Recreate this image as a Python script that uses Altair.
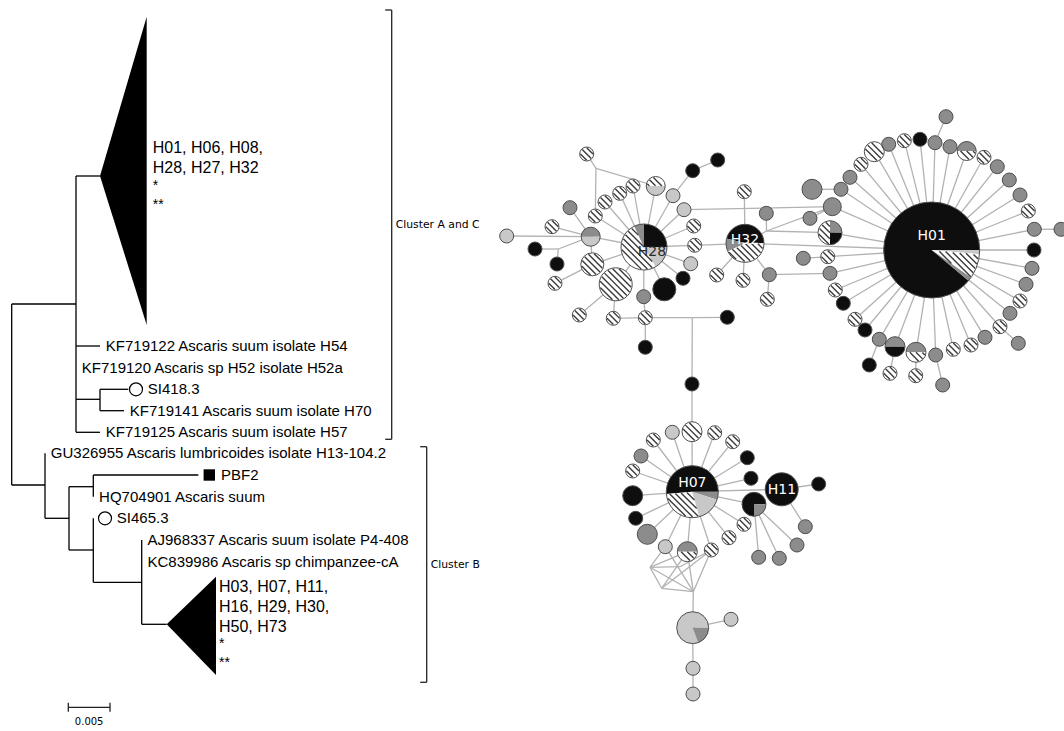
import math
import altair as alt
import pandas as pd

W, H = 1064, 731

# ---------------- phylogenetic tree (layout units) ----------------
tree_nodes = ["root", "A", "triA", "H54", "H52a", "a1", "SI418", "H70", "H57",
              "B", "GU", "b1", "b2", "PBF2", "HQ", "b3", "SI465", "b4", "AJ", "KC", "triB"]
tree_parent = [None, "root", "A", "A", "A", "A", "a1", "a1", "A",
               "root", "B", "B", "b1", "b2", "b2", "b1", "b3", "b3", "b4", "b4", "b4"]
tree_x = [11.7, 76, 100, 100, 76, 100, 128.3, 124, 100,
          45, 45, 69, 93.3, 198.3, 93.3, 93.3, 93.3, 141.7, 141.7, 141.7, 166.7]
tree_y = [394.5, 304, 176, 346, 367.7, 399.3, 389.3, 410.7, 432.3,
          485, 453.3, 518.3, 486.7, 475, 496.7, 550, 518.3, 582.3, 540, 561.7, 624.3]

# taxon labels on tips
label_leaf = ["H54", "H52a", "SI418", "H70", "H57", "GU", "PBF2", "HQ", "SI465", "AJ", "KC"]
label_text = ["KF719122 Ascaris suum isolate H54",
              "KF719120 Ascaris sp H52 isolate H52a",
              "SI418.3",
              "KF719141 Ascaris suum isolate H70",
              "KF719125 Ascaris suum isolate H57",
              "GU326955 Ascaris lumbricoides isolate H13-104.2",
              "PBF2",
              "HQ704901 Ascaris suum",
              "SI465.3",
              "AJ968337 Ascaris suum isolate P4-408",
              "KC839986 Ascaris sp chimpanzee-cA"]
label_marker = ["", "", "open", "", "", "", "square", "", "open", "", ""]
marker_gap = {"SI418": 7.7, "PBF2": 11.0, "SI465": 11.7}

# collapsed clades
clade_apex = ["triA", "triB"]
clade_base_x = [146.7, 216.0]
clade_top = [16.7, 576.7]
clade_bottom = [325.0, 675.0]
clade_members = [["H01, H06, H08,", "H28, H27, H32"],
                 ["H03, H07, H11,", "H16, H29, H30,", "H50, H73"]]
clade_label_gap = [6, 3]
clade_marks = ["*", "**"]

# cluster brackets
cluster_names = ["Cluster A and C", "Cluster B"]
bracket_x = [391.7, 426.7]
bracket_top = [10.0, 446.7]
bracket_bottom = [439.3, 682.3]

# scale bar
scale_value = 0.005
scale_label = "0.005"
px_per_unit = 8340.0
scale_origin = (68.3, 707.3)

# ---------------- haplotype network ----------------
# (name, x, y, radius, kind)  kind: k black, m mid grey, l light grey, h hatched, pie, j junction
nodes_h28 = [
    ("H28", 644, 247, 23, "pie"), ("a1", 586.7, 154, 7, "h"), ("a2", 717.7, 160, 7, "k"),
    ("a3", 692.7, 170.7, 7, "k"), ("a4", 633, 186, 7, "h"), ("a5", 655.7, 186, 9.5, "pie"),
    ("a6", 619.7, 193.3, 7, "h"), ("a7", 673, 195.7, 7, "l"), ("a8", 605, 202, 7, "h"),
    ("a9", 570, 207.7, 7, "m"), ("a10", 684, 209.7, 7, "l"), ("a11", 595.3, 216, 7, "h"),
    ("a12", 552, 226.7, 7, "h"), ("a13", 693.7, 226, 7, "h"), ("a14", 590.7, 236.7, 9.5, "pie"),
    ("a15", 694.7, 245.3, 7, "h"), ("a16", 535, 249, 7, "k"), ("a17", 592.3, 264.3, 11.5, "h"),
    ("a18", 557, 264, 7, "k"), ("a19", 690.7, 263.7, 7, "l"), ("a20", 683, 278.3, 7, "k"),
    ("a21", 555, 283.3, 7, "h"), ("a22", 615.7, 284.3, 16.5, "h"), ("a23", 664.3, 289.3, 11.5, "k"),
    ("a24", 643.7, 296.7, 7, "m"), ("a25", 579.3, 315, 7, "h"), ("a26", 613.3, 318.3, 7, "h"),
    ("a27", 645.3, 317.7, 7, "h"), ("a28", 727.3, 317.3, 7, "k"), ("a29", 645.3, 347.3, 7, "k"),
    ("a30", 506.7, 236, 7, "l"),
    ("j1", 558.3, 249, 0, "j"), ("j2", 596, 168.3, 0, "j"), ("j3", 692.3, 317.7, 0, "j"),
]
nodes_h32 = [
    ("H32", 745, 243.3, 19, "pie"), ("b31", 744.3, 191.7, 7, "h"), ("b32", 766.3, 213.3, 7, "m"),
    ("b33", 716.7, 275, 7, "h"), ("b34", 743, 280.3, 7, "h"), ("b35", 769.3, 274.7, 7, "m"),
    ("b36", 767.3, 299.3, 7, "h"), ("j5", 766.5, 231, 0, "j"),
]
nodes_h01 = [
    ("H01", 931.7, 250, 48, "pie"), ("c41", 946, 116.7, 7, "m"), ("c42", 920, 139.3, 7, "k"),
    ("c43", 904.3, 140.7, 7, "h"), ("c44", 935, 142.7, 7, "m"), ("c45", 888.7, 144.3, 7, "m"),
    ("c46", 950, 146.7, 7, "m"), ("c47", 966.7, 151, 9.5, "pie"), ("c48", 874.3, 151.7, 10, "h"),
    ("c49", 984, 157.3, 7, "h"), ("c50", 861, 164.3, 7, "h"), ("c51", 997.3, 166.7, 7, "m"),
    ("c52", 850, 177.3, 7, "m"), ("c53", 1009.3, 180, 7, "m"), ("c54", 812, 189.3, 10, "m"),
    ("c55", 841, 189.3, 7, "m"), ("c56", 1020, 195, 7, "m"), ("c57", 832.3, 206.7, 9, "m"),
    ("c58", 1028.3, 211, 7, "h"), ("c59", 810, 218.3, 7, "m"), ("c60", 830, 232.7, 12, "pie"),
    ("c61", 1034.3, 229.3, 7, "m"), ("c62", 1061, 229.3, 7, "m"), ("c63", 1034, 250, 7, "k"),
    ("c64", 803.3, 258.3, 7, "m"), ("c65", 827.7, 256.7, 7, "h"), ("c66", 1032, 268.3, 7, "m"),
    ("c67", 830, 273.3, 7, "m"), ("c68", 1026, 284.3, 7, "m"), ("c69", 835.3, 290, 7, "h"),
    ("c70", 1020, 301, 7, "h"), ("c71", 843.3, 303.3, 7, "k"), ("c72", 1010, 313.3, 7, "m"),
    ("c73", 855, 319.3, 7, "h"), ("c74", 1000, 326.7, 7, "h"), ("c75", 865, 330, 7, "k"),
    ("c76", 985, 337.3, 7, "m"), ("c77", 1018.3, 343.3, 7, "m"), ("c78", 971, 345, 7, "h"),
    ("c79", 879.3, 339.3, 7, "m"), ("c80", 895, 346.7, 10, "pie"), ("c81", 953.3, 349.3, 7, "h"),
    ("c82", 916, 352.3, 10, "pie"), ("c83", 935.7, 355, 7, "m"), ("c84", 869.3, 365, 7, "k"),
    ("c85", 890, 373.3, 7, "h"), ("c86", 915.7, 375.7, 7, "h"), ("c87", 942.7, 385, 7, "m"),
]
nodes_h07 = [
    ("d0", 692, 384, 7, "k"), ("d1", 692, 431.7, 10, "h"), ("d2", 672.3, 432.3, 7, "l"),
    ("d3", 714.7, 432.7, 7, "h"), ("d4", 653.3, 440, 7, "h"), ("d5", 732.7, 441.7, 7, "h"),
    ("d6", 641, 456, 7, "m"), ("d7", 747.3, 457.7, 7, "k"), ("d8", 632.7, 471, 7, "h"),
    ("d9", 751, 478.3, 7, "k"), ("H07", 692.3, 491.7, 26, "pie"), ("H11", 781.7, 489.3, 16.5, "k"),
    ("d12", 818.7, 484, 7, "k"), ("d13", 632.7, 495.7, 10, "k"), ("d14", 635.7, 518.3, 7, "k"),
    ("d15", 754, 504.3, 12, "pie"), ("d16", 744, 524.3, 7, "h"), ("d17", 647.3, 534.3, 10, "m"),
    ("d18", 805.3, 526.7, 7, "m"), ("d19", 729, 537.7, 7, "h"), ("d20", 665.3, 546.7, 7, "l"),
    ("d21", 687.3, 551.7, 10, "pie"), ("d22", 711.3, 550, 7, "h"), ("d23", 797, 545, 7, "m"),
    ("d24", 758.7, 557.3, 7, "m"), ("d25", 779.3, 558.3, 7, "m"), ("d26", 692.7, 627.7, 16, "pie"),
    ("d27", 731, 619.3, 7, "l"), ("d28", 693, 668.3, 7, "l"), ("d29", 693, 694, 7, "l"),
    ("t1", 650, 567.3, 0, "j"), ("t4", 661.7, 588.3, 0, "j"), ("t5", 693.3, 591.7, 0, "j"),
    ("t7", 680, 566.7, 0, "j"),
]

edges_h28 = [
    ("H28", n) for n in ["a4", "a5", "a6", "a7", "a8", "a10", "a11", "a13", "a15", "a19",
                         "a20", "a23", "a24", "a14", "a17", "a22"]
] + [
    ("a1", "j2"), ("j2", "a5"), ("j2", "a11"), ("a7", "a3"), ("a3", "a2"),
    ("a14", "a9"), ("a14", "a12"), ("a14", "a30"), ("a14", "j1"), ("j1", "a16"), ("j1", "a18"),
    ("a14", "a17"), ("a21", "a17"), ("a22", "a25"), ("a22", "a26"),
    ("a24", "a27"), ("a27", "a29"), ("a26", "a27"), ("a27", "j3"), ("j3", "a28"), ("j3", "d0"),
    ("a15", "H32"), ("a10", "c57"),
]
edges_h32 = [
    ("H32", "b31"), ("H32", "b33"), ("H32", "b34"), ("H32", "b35"), ("b35", "b36"),
    ("H32", "j5"), ("j5", "b32"), ("j5", "c57"), ("j5", "c60"), ("H32", "H01"), ("b35", "c67"),
]
edges_h01 = [
    ("H01", n) for n in ["c42", "c43", "c44", "c45", "c46", "c47", "c48", "c49", "c50", "c51",
                         "c52", "c53", "c55", "c56", "c57", "c58", "c60", "c61", "c63", "c65",
                         "c66", "c67", "c68", "c69", "c70", "c71", "c72", "c73", "c74", "c75",
                         "c76", "c78", "c79", "c80", "c81", "c82", "c83"]
] + [
    ("c41", "c44"), ("c62", "c61"), ("c64", "c65"), ("c77", "c74"), ("c84", "c79"),
    ("c85", "c80"), ("c86", "c82"), ("c87", "c83"), ("c54", "c55"), ("c59", "c57"),
]
edges_h07 = [
    ("d0", "d1"), ("d1", "H07"),
] + [
    ("H07", n) for n in ["d2", "d3", "d4", "d5", "d6", "d7", "d8", "d9", "H11", "d13", "d14",
                         "d15", "d16", "d17", "d19", "d20", "d21", "d22"]
] + [
    ("H11", "d12"), ("H11", "d18"), ("d15", "d23"), ("d15", "d24"), ("d15", "d25"),
    ("t1", "d20"), ("t1", "d21"), ("t1", "t4"), ("t4", "t5"), ("t1", "t5"), ("d20", "t5"),
    ("d21", "t4"), ("d22", "t4"), ("d22", "t5"), ("t7", "d22"), ("t7", "t1"), ("d21", "t5"),
    ("t5", "d26"), ("d26", "d27"), ("d26", "d28"), ("d28", "d29"),
]

# pie compositions: (node, start deg, end deg, kind), clockwise from 12 o'clock
pie_slices = [
    ("H28", 0, 90, "k"), ("H28", 90, 150, "l"), ("H28", 150, 335, "h"), ("H28", 335, 360, "m"),
    ("a5", 270, 450, "h"), ("a5", 90, 270, "l"),
    ("a14", 270, 450, "m"), ("a14", 90, 270, "l"),
    ("H32", 285, 450, "k"), ("H32", 90, 245, "h"), ("H32", 245, 285, "m"),
    ("H01", 130, 450, "k"), ("H01", 90, 95, "l"), ("H01", 95, 125, "h"), ("H01", 125, 130, "m"),
    ("c47", 270, 450, "m"), ("c47", 90, 270, "h"),
    ("c60", 0, 90, "m"), ("c60", 90, 180, "k"), ("c60", 180, 360, "h"),
    ("c80", 270, 450, "m"), ("c80", 90, 270, "k"),
    ("c82", 270, 450, "m"), ("c82", 90, 270, "h"),
    ("H07", 265, 450, "k"), ("H07", 90, 108, "m"), ("H07", 108, 165, "l"), ("H07", 165, 265, "h"),
    ("d15", 180, 450, "k"), ("d15", 90, 180, "m"),
    ("d21", 270, 450, "m"), ("d21", 90, 270, "h"),
    ("d26", 160, 450, "l"), ("d26", 90, 160, "m"),
]

hap_labels = [("H01", 931.7, 236, "white"), ("H28", 652, 252, "#2a2a2a"),
              ("H32", 745, 240, "white"), ("H07", 692.3, 483, "white"), ("H11", 782, 489.5, "white")]

fill_colors = {"k": "#0e0e0e", "m": "#8c8c8c", "l": "#c8c8c8", "h": "#ffffff"}

# ---------------- build tables ----------------
tx = dict(zip(tree_nodes, tree_x))
ty = dict(zip(tree_nodes, tree_y))

tree_rows = []
children = {}
for n, p in zip(tree_nodes, tree_parent):
    if p is None:
        continue
    children.setdefault(p, []).append(n)
    if tx[n] > tx[p]:
        tree_rows.append({"x": tx[p], "y": ty[n], "x2": tx[n], "y2": ty[n]})
for p, kids in children.items():
    ys = [ty[k] for k in kids]
    tree_rows.append({"x": tx[p], "y": min(ys), "x2": tx[p], "y2": max(ys)})

bracket_rows = []
for bx, b0, b1 in zip(bracket_x, bracket_top, bracket_bottom):
    bracket_rows += [{"x": bx, "y": b0, "x2": bx, "y2": b1},
                     {"x": bx - 6.5, "y": b0, "x2": bx, "y2": b0},
                     {"x": bx - 6.5, "y": b1, "x2": bx, "y2": b1}]
sx0, sy0 = scale_origin
sx1 = sx0 + scale_value * px_per_unit
bracket_rows += [{"x": sx0, "y": sy0, "x2": sx1, "y2": sy0},
                 {"x": sx0, "y": sy0 - 4.5, "x2": sx0, "y2": sy0 + 4.5},
                 {"x": sx1, "y": sy0 - 4.5, "x2": sx1, "y2": sy0 + 4.5}]

tri_rows = []
for i, apex in enumerate(clade_apex):
    tri_rows.append({"tri": apex, "x": tx[apex], "y": ty[apex], "y2": ty[apex]})
    tri_rows.append({"tri": apex, "x": clade_base_x[i], "y": clade_top[i], "y2": clade_bottom[i]})

taxa_rows, open_rows, square_rows = [], [], []
for leaf, text, mk in zip(label_leaf, label_text, label_marker):
    if mk:
        mx = tx[leaf] + marker_gap[leaf]
        (open_rows if mk == "open" else square_rows).append({"x": mx, "y": ty[leaf]})
        taxa_rows.append({"x": mx + 11.8, "y": ty[leaf], "t": text})
    else:
        taxa_rows.append({"x": tx[leaf] + 5.8, "y": ty[leaf], "t": text})

clade_rows, star_rows = [], []
for i, apex in enumerate(clade_apex):
    names = clade_members[i]
    block = 20 * (len(names) - 1) + 16.3 + 19
    y0 = ty[apex] - block / 2
    lx = clade_base_x[i] + clade_label_gap[i]
    for k, nm in enumerate(names):
        clade_rows.append({"x": lx, "y": y0 + 20 * k, "t": nm})
    ylast = y0 + 20 * (len(names) - 1)
    star_rows.append({"x": lx, "y": ylast + 17.5, "t": clade_marks[0]})
    star_rows.append({"x": lx, "y": ylast + 36.5, "t": clade_marks[1]})

cluster_rows = [{"x": bx + 4, "y": (b0 + b1) / 2, "t": nm}
                for nm, bx, b0, b1 in zip(cluster_names, bracket_x, bracket_top, bracket_bottom)]
scale_rows = [{"x": (sx0 + sx1) / 2, "y": sy0 + 15, "t": scale_label}]

all_nodes = nodes_h28 + nodes_h32 + nodes_h01 + nodes_h07
pos = {n[0]: n for n in all_nodes}

edge_rows = []
for a, b in edges_h28 + edges_h32 + edges_h01 + edges_h07:
    edge_rows.append({"x": pos[a][1], "y": pos[a][2], "x2": pos[b][1], "y2": pos[b][2]})


def hatch(cx, cy, r, a0=0.0, a1=360.0, step=4.4):
    """Diagonal hatch strokes clipped to a circle sector."""
    out = []
    s2 = math.sqrt(0.5)
    rin = r - 0.7
    full = (a1 - a0) >= 360
    n = int(rin // step) + 1
    for i in range(-n, n + 1):
        off = i * step
        if abs(off) >= rin - 0.6:
            continue
        h = math.sqrt(rin * rin - off * off)
        bx, by = cx + off * s2, cy - off * s2
        run = None
        steps = 60
        for k in range(steps + 1):
            t = -h + 2 * h * k / steps
            px, py = bx + t * s2, by + t * s2
            if full:
                ok = True
            else:
                ang = math.degrees(math.atan2(px - cx, -(py - cy))) % 360
                ok = ((ang - a0) % 360) <= (a1 - a0)
            if ok:
                if run is None:
                    run = [px, py, px, py]
                else:
                    run[2], run[3] = px, py
            elif run is not None:
                out.append(run)
                run = None
        if run is not None:
            out.append(run)
    return [s for s in out if math.hypot(s[2] - s[0], s[3] - s[1]) > 1.0]


arc_rows, hatch_rows, outline_rows = [], [], []
for name, x, y, r, kind in all_nodes:
    if kind == "j":
        continue
    outline_rows.append({"x": x, "y": y, "s": (2 * r) ** 2})
    if kind == "pie":
        continue
    arc_rows.append({"x": x, "y": y, "t0": 0.0, "t1": 2 * math.pi, "r": r, "col": fill_colors[kind]})
    if kind == "h":
        for s in hatch(x, y, r):
            hatch_rows.append({"x": s[0], "y": s[1], "x2": s[2], "y2": s[3]})
for name, a0, a1, kind in pie_slices:
    _, x, y, r, _ = pos[name]
    arc_rows.append({"x": x, "y": y, "t0": math.radians(a0), "t1": math.radians(a1),
                     "r": r, "col": fill_colors[kind]})
    if kind == "h":
        for s in hatch(x, y, r, a0, a1):
            hatch_rows.append({"x": s[0], "y": s[1], "x2": s[2], "y2": s[3]})

hap_rows = [{"x": x, "y": y, "t": t, "c": c} for t, x, y, c in hap_labels]

# ---------------- chart ----------------
xs = alt.Scale(domain=[0, W], nice=False, zero=False)
ys = alt.Scale(domain=[0, H], nice=False, zero=False, reverse=True)


def X(f="x"):
    return alt.X(f, type="quantitative", scale=xs, axis=None)


def Y(f="y"):
    return alt.Y(f, type="quantitative", scale=ys, axis=None)


def segs(rows, color, width):
    return alt.Chart(pd.DataFrame(rows)).mark_rule(color=color, strokeWidth=width).encode(
        x=X(), y=Y(), x2="x2:Q", y2="y2:Q")


def texts(rows, size, font, color="black", align="left"):
    return alt.Chart(pd.DataFrame(rows)).mark_text(
        align=align, baseline="middle", fontSize=size, font=font, color=color
    ).encode(x=X(), y=Y(), text="t:N")


tree_layer = segs(tree_rows, "black", 1.3)
bracket_layer = segs(bracket_rows, "#222222", 1.3)
tri_layer = alt.Chart(pd.DataFrame(tri_rows)).mark_area(
    color="black", orient="vertical", opacity=1
).encode(x=X(), y=Y(), y2="y2:Q", detail="tri:N")
open_layer = alt.Chart(pd.DataFrame(open_rows)).mark_point(
    shape="circle", filled=False, color="black", strokeWidth=1.2, size=169, opacity=1
).encode(x=X(), y=Y())
square_layer = alt.Chart(pd.DataFrame(square_rows)).mark_point(
    shape="square", filled=True, color="black", size=130, opacity=1
).encode(x=X(), y=Y())

taxa_layer = texts(taxa_rows, 15, "Liberation Sans")
clade_layer = texts(clade_rows, 16, "Liberation Sans")
star_layer = texts(star_rows, 14, "Liberation Sans")
cluster_layer = texts(cluster_rows, 10.8, "DejaVu Sans")
scale_layer = texts(scale_rows, 10, "DejaVu Sans", align="center")

edge_layer = segs(edge_rows, "#b2b2b2", 1.3)
node_layer = alt.Chart(pd.DataFrame(arc_rows)).mark_arc().encode(
    x=X(), y=Y(),
    theta=alt.Theta("t0:Q", scale=None, stack=False),
    theta2="t1:Q",
    radius=alt.Radius("r:Q", scale=None),
    color=alt.Color("col:N", scale=None),
)
hatch_layer = segs(hatch_rows, "#3a3a3a", 1.4)
outline_layer = alt.Chart(pd.DataFrame(outline_rows)).mark_point(
    shape="circle", filled=False, color="#4d4d4d", strokeWidth=1, opacity=1
).encode(x=X(), y=Y(), size=alt.Size("s:Q", scale=None))
hap_layer = alt.Chart(pd.DataFrame(hap_rows)).mark_text(
    align="center", baseline="middle", fontSize=14, font="DejaVu Sans"
).encode(x=X(), y=Y(), text="t:N", color=alt.Color("c:N", scale=None))

chart = alt.layer(
    tree_layer, tri_layer, bracket_layer, open_layer, square_layer,
    taxa_layer, clade_layer, star_layer, cluster_layer, scale_layer,
    edge_layer, node_layer, hatch_layer, outline_layer, hap_layer,
).properties(
    width=W, height=H, padding=0, background="white",
    autosize=alt.AutoSizeParams(type="none"),
).configure_view(strokeWidth=0)

chart.save("out.html", embed_options={"renderer": "svg", "actions": False})
